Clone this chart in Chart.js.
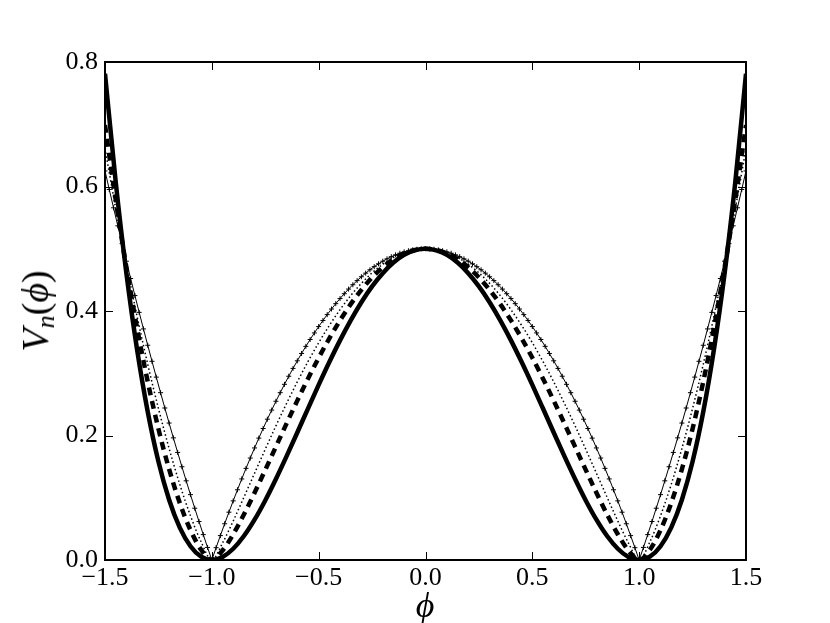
<!DOCTYPE html>
<html>
<head>
<meta charset="utf-8">
<script src="https://cdn.jsdelivr.net/npm/chart.js@4.4.1/dist/chart.umd.min.js"></script>
<style>
  body { margin: 0; background: #fff; }
  #wrap { position: relative; width: 830px; height: 623px; }
  .lab { position: absolute; font-family: "Liberation Serif", "DejaVu Serif", serif; color: #000; white-space: nowrap; }
  #ylab { left: 37px; top: 311px; font-size: 38px; font-style: italic; transform: translate(-50%, -50%) rotate(-90deg); }
  #ylab sub { font-size: 26px; vertical-align: -6px; }
  #ylab .up { font-style: normal; }
  #xlab { left: 425px; top: 605px; font-size: 36px; font-style: italic; transform: translate(-50%, -50%); }
</style>
</head>
<body>
<div id="wrap">
  <canvas id="c" width="830" height="623"></canvas>
  <div class="lab" id="ylab">V<sub>n</sub><span class="up">(</span>ϕ<span class="up">)</span></div>
  <div class="lab" id="xlab">ϕ</div>
</div>
<script>
// ── DATA ─────────────────────────────────────────────────────────────
// phi grid for the three smooth curves (step 0.05)
const phiCoarse = [-1.5,-1.45,-1.4,-1.35,-1.3,-1.25,-1.2,-1.15,-1.1,-1.05,-1,-0.95,-0.9,-0.85,-0.8,-0.75,-0.7,-0.65,-0.6,-0.55,-0.5,-0.45,-0.4,-0.35,-0.3,-0.25,-0.2,-0.15,-0.1,-0.05,0,0.05,0.1,0.15,0.2,0.25,0.3,0.35,0.4,0.45,0.5,0.55,0.6,0.65,0.7,0.75,0.8,0.85,0.9,0.95,1,1.05,1.1,1.15,1.2,1.25,1.3,1.35,1.4,1.45,1.5]

// solid thick curve
const vSolid = [0.7813,0.6078,0.4608,0.3383,0.2381,0.1582,0.0968,0.0520,0.0221,0.0053,0,0.0048,0.0181,0.0385,0.0648,0.0957,0.1301,0.1668,0.2048,0.2433,0.2813,0.3180,0.3528,0.3850,0.4141,0.4395,0.4608,0.4778,0.4901,0.4975,0.5,0.4975,0.4901,0.4778,0.4608,0.4395,0.4141,0.3850,0.3528,0.3180,0.2813,0.2433,0.2048,0.1668,0.1301,0.0957,0.0648,0.0385,0.0181,0.0048,0,0.0053,0.0221,0.0520,0.0968,0.1582,0.2381,0.3383,0.4608,0.6078,0.7813]

// dashed thick curve
const vDashed = [0.6988,0.5788,0.4703,0.3730,0.2866,0.2109,0.1459,0.0916,0.0481,0.0164,0,0.0152,0.0414,0.0731,0.1080,0.1447,0.1821,0.2194,0.2560,0.2913,0.3248,0.3561,0.3849,0.4110,0.4340,0.4539,0.4703,0.4832,0.4925,0.4981,0.5,0.4981,0.4925,0.4832,0.4703,0.4539,0.4340,0.4110,0.3849,0.3561,0.3248,0.2913,0.2560,0.2194,0.1821,0.1447,0.1080,0.0731,0.0414,0.0152,0,0.0164,0.0481,0.0916,0.1459,0.2109,0.2866,0.3730,0.4703,0.5788,0.6988]

// dotted thin curve
const vDotted = [0.6609,0.5649,0.4751,0.3916,0.3144,0.2436,0.1792,0.1215,0.0711,0.0290,0,0.0272,0.0627,0.1007,0.1394,0.1779,0.2155,0.2517,0.2862,0.3187,0.3490,0.3768,0.4021,0.4247,0.4444,0.4613,0.4751,0.4860,0.4938,0.4984,0.5,0.4984,0.4938,0.4860,0.4751,0.4613,0.4444,0.4247,0.4021,0.3768,0.3490,0.3187,0.2862,0.2517,0.2155,0.1779,0.1394,0.1007,0.0627,0.0272,0,0.0290,0.0711,0.1215,0.1792,0.2436,0.3144,0.3916,0.4751,0.5649,0.6609]

// finer phi grid for the curve with "+" markers (step 0.02)
const phiFine = [-1.5,-1.48,-1.46,-1.44,-1.42,-1.4,-1.38,-1.36,-1.34,-1.32,-1.3,-1.28,-1.26,-1.24,-1.22,-1.2,-1.18,-1.16,-1.14,-1.12,-1.1,-1.08,-1.06,-1.04,-1.02,-1,-0.98,-0.96,-0.94,-0.92,-0.9,-0.88,-0.86,-0.84,-0.82,-0.8,-0.78,-0.76,-0.74,-0.72,-0.7,-0.68,-0.66,-0.64,-0.62,-0.6,-0.58,-0.56,-0.54,-0.52,-0.5,-0.48,-0.46,-0.44,-0.42,-0.4,-0.38,-0.36,-0.34,-0.32,-0.3,-0.28,-0.26,-0.24,-0.22,-0.2,-0.18,-0.16,-0.14,-0.12,-0.1,-0.08,-0.06,-0.04,-0.02,0,0.02,0.04,0.06,0.08,0.1,0.12,0.14,0.16,0.18,0.2,0.22,0.24,0.26,0.28,0.3,0.32,0.34,0.36,0.38,0.4,0.42,0.44,0.46,0.48,0.5,0.52,0.54,0.56,0.58,0.6,0.62,0.64,0.66,0.68,0.7,0.72,0.74,0.76,0.78,0.8,0.82,0.84,0.86,0.88,0.9,0.92,0.94,0.96,0.98,1,1.02,1.04,1.06,1.08,1.1,1.12,1.14,1.16,1.18,1.2,1.22,1.24,1.26,1.28,1.3,1.32,1.34,1.36,1.38,1.4,1.42,1.44,1.46,1.48,1.5]

const vPlus = [0.625,0.5952,0.5658,0.5368,0.5082,0.48,0.4522,0.4248,0.3978,0.3712,0.345,0.3192,0.2938,0.2688,0.2442,0.22,0.1962,0.1728,0.1498,0.1272,0.105,0.0832,0.0618,0.0408,0.0202,0,0.0198,0.0392,0.0582,0.0768,0.095,0.1128,0.1302,0.1472,0.1638,0.18,0.1958,0.2112,0.2262,0.2408,0.255,0.2688,0.2822,0.2952,0.3078,0.32,0.3318,0.3432,0.3542,0.3648,0.375,0.3848,0.3942,0.4032,0.4118,0.42,0.4278,0.4352,0.4422,0.4488,0.455,0.4608,0.4662,0.4712,0.4758,0.48,0.4838,0.4872,0.4902,0.4928,0.495,0.4968,0.4982,0.4992,0.4998,0.5,0.4998,0.4992,0.4982,0.4968,0.495,0.4928,0.4902,0.4872,0.4838,0.48,0.4758,0.4712,0.4662,0.4608,0.455,0.4488,0.4422,0.4352,0.4278,0.42,0.4118,0.4032,0.3942,0.3848,0.375,0.3648,0.3542,0.3432,0.3318,0.32,0.3078,0.2952,0.2822,0.2688,0.255,0.2408,0.2262,0.2112,0.1958,0.18,0.1638,0.1472,0.1302,0.1128,0.095,0.0768,0.0582,0.0392,0.0198,0,0.0202,0.0408,0.0618,0.0832,0.105,0.1272,0.1498,0.1728,0.1962,0.22,0.2442,0.2688,0.2938,0.3192,0.345,0.3712,0.3978,0.4248,0.4522,0.48,0.5082,0.5368,0.5658,0.5952,0.625]

// axis ranges / ticks
const xRange = [-1.5, 1.5], xStep = 0.5
const yRange = [0, 0.8], yStep = 0.2

// ── HELPERS ──────────────────────────────────────────────────────────
const pts = (xs, ys) => xs.map((x, i) => ({ x, y: ys[i] }))
const fmt = v => (v < 0 ? "\u2212" : "") + Math.abs(v).toFixed(1)
const serif = "'Liberation Serif', 'DejaVu Serif', serif"

// inward ticks on all four sides + black frame, like the classic look
const frameTicks = {
  id: "frameTicks",
  afterDatasetsDraw(chart) {
    const { ctx, chartArea: a, scales: { x, y } } = chart
    const seg = (x1, y1, x2, y2) => { ctx.beginPath(); ctx.moveTo(x1, y1); ctx.lineTo(x2, y2); ctx.stroke() }
    ctx.save()
    ctx.strokeStyle = "#000"
    ctx.lineWidth = 1
    x.ticks.forEach(t => {
      const p = Math.round(x.getPixelForValue(t.value)) + 0.5
      seg(p, a.bottom, p, a.bottom - 8)
      seg(p, a.top, p, a.top + 8)
    })
    y.ticks.forEach(t => {
      const p = Math.round(y.getPixelForValue(t.value)) + 0.5
      seg(a.left, p, a.left + 8, p)
      seg(a.right, p, a.right - 8, p)
    })
    ctx.lineWidth = 2
    ctx.strokeRect(a.left, a.top, a.right - a.left, a.bottom - a.top)
    ctx.restore()
  }
}

new Chart(document.getElementById("c"), {
  type: "line",
  data: {
    datasets: [
      { label: "plus", data: pts(phiFine, vPlus), order: 0,
        borderColor: "#000", borderWidth: 1, tension: 0,
        pointStyle: "cross", pointRadius: 2.5, pointBorderWidth: 1, pointBorderColor: "#000" },
      { label: "dotted", data: pts(phiCoarse, vDotted), order: 1,
        borderColor: "#000", borderWidth: 1.5, borderDash: [1.5, 2.5], pointRadius: 0,
        cubicInterpolationMode: "monotone" },
      { label: "dashed", data: pts(phiCoarse, vDashed), order: 2,
        borderColor: "#000", borderWidth: 4.5, borderDash: [8, 6], pointRadius: 0,
        cubicInterpolationMode: "monotone" },
      { label: "solid", data: pts(phiCoarse, vSolid), order: 3,
        borderColor: "#000", borderWidth: 4.5, pointRadius: 0,
        cubicInterpolationMode: "monotone" }
    ]
  },
  options: {
    responsive: false,
    animation: false,
    layout: { padding: { top: 62, right: 84, left: 0, bottom: 0 } },
    plugins: { legend: { display: false }, tooltip: { enabled: false } },
    scales: {
      x: {
        type: "linear", min: xRange[0], max: xRange[1],
        grid: { display: false, drawTicks: false },
        border: { display: false },
        ticks: { stepSize: xStep, callback: fmt, color: "#000", padding: 3, maxRotation: 0,
                 font: { family: serif, size: 26 } },
        afterFit: s => { s.height = 63 }
      },
      y: {
        min: yRange[0], max: yRange[1],
        grid: { display: false, drawTicks: false },
        border: { display: false },
        ticks: { stepSize: yStep, callback: fmt, color: "#000", padding: 7,
                 font: { family: serif, size: 26 } },
        afterFit: s => { s.width = 105 }
      }
    }
  },
  plugins: [frameTicks]
})
</script>
</body>
</html>
